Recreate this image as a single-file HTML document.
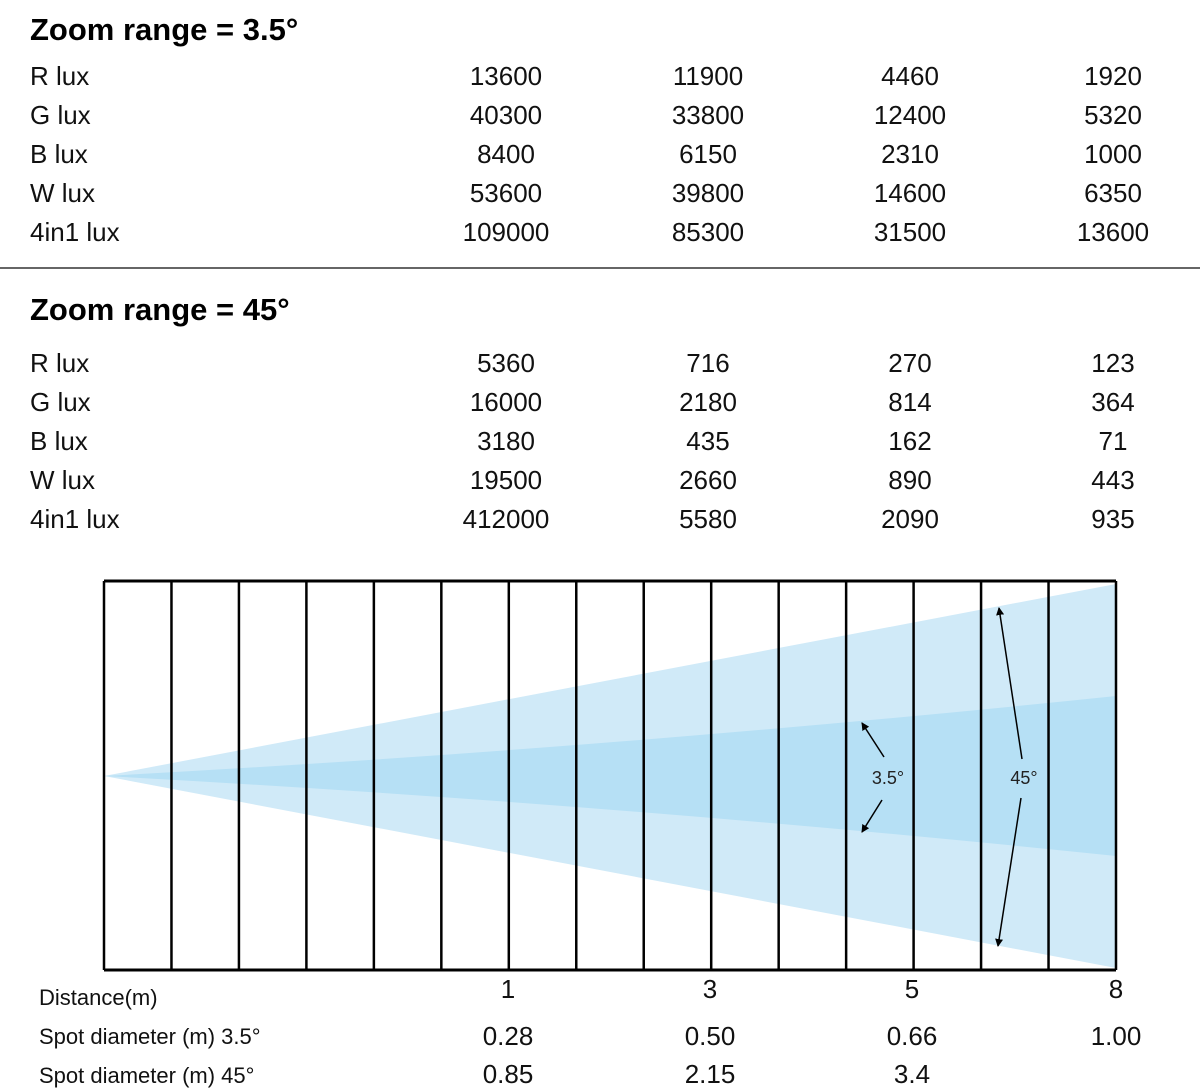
<!DOCTYPE html>
<html><head><meta charset="utf-8">
<style>
html,body{margin:0;padding:0;background:#fff;}
svg{display:block;font-family:"Liberation Sans",Arial,sans-serif;}
</style></head>
<body>
<svg id="chart" width="1200" height="1092" viewBox="0 0 1200 1092" xmlns="http://www.w3.org/2000/svg">
<g id="tables"></g>
<line x1="0" y1="268" x2="1200" y2="268" stroke="#666" stroke-width="2"/>
<g id="diagram"></g>
<g id="bottom"></g>
</svg>
<script>
const rowLabels = ["R lux","G lux","B lux","W lux","4in1 lux"];
const narrowValues = [
 ["13600","11900","4460","1920"],
 ["40300","33800","12400","5320"],
 ["8400","6150","2310","1000"],
 ["53600","39800","14600","6350"],
 ["109000","85300","31500","13600"]];
const wideValues = [
 ["5360","716","270","123"],
 ["16000","2180","814","364"],
 ["3180","435","162","71"],
 ["19500","2660","890","443"],
 ["412000","5580","2090","935"]];
const distances = ["1","3","5","8"];
const spotNarrow = ["0.28","0.50","0.66","1.00"];
const spotWide = ["0.85","2.15","3.4",""];
const beamNarrowDeg = 3.5;
const beamWideDeg = 45;

const NS="http://www.w3.org/2000/svg";
function mk(tag, attrs, parent, text){
  const e=document.createElementNS(NS,tag);
  for(const k in attrs) e.setAttribute(k,attrs[k]);
  if(text!==undefined) e.textContent=text;
  parent.appendChild(e); return e;
}
const colX=[506,708,910,1113];
const tables=document.getElementById('tables');
function section(title, titleY, rowY0, values, key){
  const t=mk('text',{x:30,y:titleY,'font-size':31,'font-weight':'bold',fill:'#000'},tables,title);
  
  
  rowLabels.forEach((lab,i)=>{
    const y=rowY0+i*39;
    const l=mk('text',{x:30,y:y,'font-size':26,fill:'#111'},tables,lab);
    
    
    values[i].forEach((v,j)=>{
      const c=mk('text',{x:colX[j],y:y,'font-size':26,fill:'#111','text-anchor':'middle'},tables,v);
      
      
    });
  });
}
section("Zoom range = 3.5°",40,85,narrowValues,'narrow');
section("Zoom range = 45°",320,372,wideValues,'wide');

// diagram
const dg=document.getElementById('diagram');
const x0=104,x1=1116,yTop=581,yBot=970,cy=776;
const wideHalf=192, narrowHalf=78;
const outer=mk('polygon',{points:`${x0},${cy} ${x1},${cy-wideHalf} ${x1},${cy+wideHalf}`,fill:'#d0eaf8'},dg);


const inner=mk('path',{d:`M${x0},${cy} Q${(x0+x1)/2},${cy-narrowHalf*0.35} ${x1},${cy-narrowHalf-2} L${x1},${cy+narrowHalf+2} Q${(x0+x1)/2},${cy+narrowHalf*0.35} ${x0},${cy} Z`,fill:'#b6e0f5'},dg);


for(let i=0;i<=15;i++){
  const x=x0+(x1-x0)*i/15;
  const ln=mk('line',{x1:x,y1:yTop,x2:x,y2:yBot,stroke:'#000','stroke-width':2.5},dg);
  
  
}
mk('line',{x1:x0,y1:yTop,x2:x1,y2:yTop,stroke:'#000','stroke-width':3},dg);
mk('line',{x1:x0,y1:yBot,x2:x1,y2:yBot,stroke:'#000','stroke-width':3},dg);
const defs=mk('defs',{},dg);
const m=mk('marker',{id:'ah',markerWidth:8,markerHeight:8,refX:7,refY:4,orient:'auto',markerUnits:'userSpaceOnUse'},defs);
mk('path',{d:'M0,0 L8,4 L0,8 Z',fill:'#000'},m);
function arrow(xa,ya,xb,yb,name){
  const a=mk('line',{x1:xa,y1:ya,x2:xb,y2:yb,stroke:'#000','stroke-width':1.5,'marker-end':'url(#ah)'},dg);
  
  
}
arrow(884,757,862,723,'arrow-3-5-up');
arrow(882,800,862,832,'arrow-3-5-down');
arrow(1022,759,999,608,'arrow-45-up');
arrow(1021,798,998,946,'arrow-45-down');
const l1=mk('text',{x:888,y:784,'font-size':18,'text-anchor':'middle',fill:'#222'},dg,beamNarrowDeg+"°");


const l2=mk('text',{x:1024,y:784,'font-size':18,'text-anchor':'middle',fill:'#222'},dg,beamWideDeg+"°");



// bottom table
const bt=document.getElementById('bottom');
const bx=[508,710,912,1116];
function lbl(txt,y,name){
  const e=mk('text',{x:39,y:y,'font-size':22,fill:'#111'},bt,txt);
  
  
}
lbl("Distance(m)",1005,'distance-label');
lbl("Spot diameter (m) 3.5°",1044,'spot-narrow-label');
lbl("Spot diameter (m) 45°",1083,'spot-wide-label');
function vals(arr,y,name){
  arr.forEach((v,j)=>{
    const e=mk('text',{x:bx[j],y:y,'font-size':26,fill:'#111','text-anchor':'middle'},bt,v);
    
    
  });
}
vals(distances,998,'distance-value');
vals(spotNarrow,1045,'spot-narrow-value');
vals(spotWide,1083,'spot-wide-value');
</script>
</body></html>
